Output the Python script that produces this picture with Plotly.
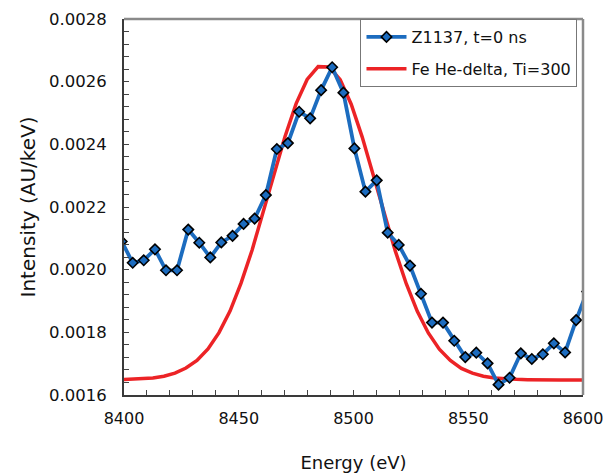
import plotly.graph_objects as go

# Measured spectrum Z1137, t=0 ns
energy_ev = [
    8399.0, 8403.8, 8408.6, 8413.5, 8418.3, 8423.1, 8428.0, 8432.8, 8437.6, 8442.4,
    8447.3, 8452.1, 8456.9, 8461.8, 8466.6, 8471.4, 8476.3, 8481.1, 8485.9, 8490.7,
    8495.6, 8500.4, 8505.2, 8510.1, 8514.9, 8519.7, 8524.6, 8529.4, 8534.2, 8539.0,
    8543.9, 8548.7, 8553.5, 8558.4, 8563.2, 8568.0, 8572.9, 8577.7, 8582.5, 8587.3,
    8592.2, 8597.0, 8601.8,
]
intensity = [
    0.002090, 0.002022, 0.002030, 0.002065, 0.001998, 0.001998, 0.002128, 0.002086,
    0.002039, 0.002087, 0.002108, 0.002146, 0.002163, 0.002238, 0.002385, 0.002404,
    0.002504, 0.002483, 0.002573, 0.002646, 0.002565, 0.002387, 0.002249, 0.002285,
    0.002118, 0.002079, 0.002013, 0.001923, 0.001831, 0.001831, 0.001773, 0.001721,
    0.001735, 0.001701, 0.001633, 0.001655, 0.001733, 0.001715, 0.001730, 0.001765,
    0.001736, 0.001839, 0.001930,
]

# Model line profile: Fe He-delta, Ti=300
model_energy_ev = [
    8398.2, 8403.0, 8407.8, 8412.6, 8417.4, 8422.2, 8427.0, 8431.8, 8436.6, 8441.4,
    8446.2, 8451.0, 8455.8, 8460.6, 8465.4, 8470.2, 8475.0, 8479.8, 8484.6, 8489.4,
    8494.2, 8499.0, 8503.8, 8508.6, 8513.4, 8518.2, 8523.0, 8527.8, 8532.6, 8537.4,
    8542.2, 8547.0, 8551.8, 8556.6, 8561.4, 8566.2, 8571.0, 8575.8, 8580.6, 8585.4,
    8590.2, 8595.0, 8599.8, 8604.6,
]
model_intensity = [
    0.001649, 0.001650, 0.001651, 0.001654, 0.001660, 0.001670, 0.001686, 0.001710,
    0.001747, 0.001799, 0.001868, 0.001957, 0.002062, 0.002181, 0.002306, 0.002426,
    0.002530, 0.002607, 0.002648, 0.002647, 0.002606, 0.002528, 0.002423, 0.002303,
    0.002179, 0.002060, 0.001955, 0.001867, 0.001798, 0.001746, 0.001710, 0.001685,
    0.001670, 0.001660, 0.001654, 0.001651, 0.001650, 0.001649, 0.001648, 0.001648,
    0.001648, 0.001648, 0.001648, 0.001648,
]

x_ticks = [8400, 8450, 8500, 8550, 8600]
y_ticks = [0.0016, 0.0018, 0.0020, 0.0022, 0.0024, 0.0026, 0.0028]

BLUE = "#1c6cbf"
RED = "#ec2326"
FONT = "DejaVu Sans"

fig = go.Figure()

fig.add_trace(go.Scatter(
    x=model_energy_ev, y=model_intensity,
    mode="lines", name="Fe He-delta, Ti=300",
    line=dict(color=RED, width=3.5),
    legendgroup="model", legendrank=2,
))
fig.add_trace(go.Scatter(
    x=energy_ev, y=intensity,
    mode="lines+markers", name="Z1137, t=0 ns",
    line=dict(color=BLUE, width=3.8),
    marker=dict(symbol="diamond", size=8, color=BLUE,
                line=dict(color="black", width=1.6)),
    legendgroup="data", legendrank=1,
))

tick_style = dict(ticks="inside", ticklen=5, tickwidth=1, tickcolor="#444")

fig.update_xaxes(
    range=[8400, 8600], tickvals=x_ticks, tickformat="d",
    showgrid=False, zeroline=False, automargin=False,
    showline=True, linecolor="#3a3a3a", linewidth=2,
    ticklabelstandoff=8,
    minor=dict(dtick=10, **tick_style),
    tickfont=dict(family=FONT, size=16, color="#111"),
    title=dict(text="Energy (eV)", font=dict(family=FONT, size=18, color="#111"),
               standoff=31),
    **tick_style,
)
fig.update_yaxes(
    range=[0.0016, 0.0028], tickvals=y_ticks, tickformat=".4f",
    showgrid=False, zeroline=False, automargin=False,
    showline=True, linecolor="#3a3a3a", linewidth=2,
    ticklabelstandoff=12,
    minor=dict(tick0=0.0016, dtick=0.00004, **tick_style),
    tickfont=dict(family=FONT, size=16.5, color="#111"),
    title=dict(text="Intensity (AU/keV)", font=dict(family=FONT, size=20, color="#111"),
               standoff=8),
    **tick_style,
)

# Lighter frame along the top and right edges
fig.add_shape(type="line", xref="paper", yref="paper", x0=0, x1=1, y0=1, y1=1,
              line=dict(color="#8a8a8a", width=2.5))
fig.add_shape(type="line", xref="paper", yref="paper", x0=1, x1=1, y0=0, y1=1,
              line=dict(color="#8a8a8a", width=2.5))

fig.update_layout(
    width=613, height=473,
    margin=dict(l=124, r=30, t=19, b=78),
    paper_bgcolor="white", plot_bgcolor="white",
    font=dict(family=FONT, color="#111"),
    legend=dict(
        x=0.988, xanchor="right", y=1.0, yanchor="top",
        bgcolor="white", bordercolor="#777", borderwidth=1,
        font=dict(family=FONT, size=16, color="#111"),
        tracegroupgap=8, itemwidth=40,
    ),
)

fig.write_html("out.html")
